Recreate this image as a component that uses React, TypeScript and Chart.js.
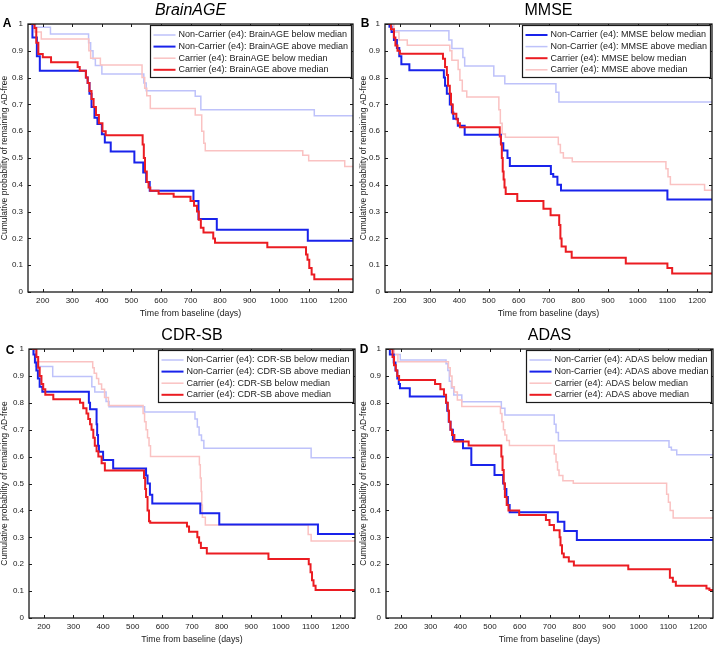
import React, { useEffect, useRef } from 'react';
import { Chart, registerables } from 'chart.js';

Chart.register(...registerables);

// ---------- axes ----------
const xMin = 150;
const xMax = 1250;
const xTickValues = [200, 300, 400, 500, 600, 700, 800, 900, 1000, 1100, 1200];
const yTickValues = [0, 0.1, 0.2, 0.3, 0.4, 0.5, 0.6, 0.7, 0.8, 0.9, 1];
const xAxisTitle = 'Time from baseline (days)';
const yAxisTitle = 'Cumulative probability of remaining AD-free';

const panelTitles = ['BrainAGE', 'MMSE', 'CDR-SB', 'ADAS'];
const panelLetters = ['A', 'B', 'C', 'D'];

// ---------- data: [day, survival] (Kaplan-Meier steps) ----------
// A: BrainAGE
const brainNcBelow = [[150, 1], [175, 0.988], [226, 0.963], [355, 0.93], [362, 0.9], [370, 0.87], [378, 0.845], [400, 0.813], [542, 0.78], [550, 0.751], [716, 0.73], [735, 0.68], [1119, 0.658], [1250, 0.658]];
const brainNcAbove = [[150, 1], [160, 1], [165, 0.95], [180, 0.88], [190, 0.826], [346, 0.8], [352, 0.78], [358, 0.74], [365, 0.69], [375, 0.65], [385, 0.627], [400, 0.589], [410, 0.558], [430, 0.524], [510, 0.483], [540, 0.446], [550, 0.41], [562, 0.378], [710, 0.34], [727, 0.272], [789, 0.232], [1097, 0.191], [1250, 0.191]];
const brainCBelow = [[150, 1], [172, 0.97], [195, 0.944], [356, 0.9], [362, 0.872], [395, 0.847], [536, 0.8], [545, 0.76], [552, 0.732], [564, 0.685], [716, 0.66], [738, 0.6], [745, 0.555], [750, 0.527], [1080, 0.51], [1100, 0.49], [1222, 0.468], [1250, 0.468]];
const brainCAbove = [[150, 1], [172, 0.985], [178, 0.93], [185, 0.888], [200, 0.876], [228, 0.857], [318, 0.84], [325, 0.826], [346, 0.8], [352, 0.78], [358, 0.75], [365, 0.72], [372, 0.69], [380, 0.66], [390, 0.63], [402, 0.6], [413, 0.585], [538, 0.55], [542, 0.5], [546, 0.45], [552, 0.41], [558, 0.39], [564, 0.378], [592, 0.367], [643, 0.355], [700, 0.34], [712, 0.322], [722, 0.3], [728, 0.27], [735, 0.24], [744, 0.222], [777, 0.2], [783, 0.184], [960, 0.167], [1091, 0.14], [1096, 0.12], [1102, 0.09], [1110, 0.065], [1119, 0.048], [1250, 0.048]];

// B: MMSE
const mmseNcBelow = [[150, 1], [165, 0.99], [172, 0.97], [180, 0.94], [190, 0.91], [198, 0.88], [205, 0.85], [232, 0.827], [348, 0.8], [352, 0.77], [358, 0.74], [368, 0.7], [375, 0.67], [380, 0.646], [395, 0.62], [418, 0.587], [540, 0.555], [548, 0.528], [562, 0.5], [570, 0.47], [708, 0.44], [716, 0.43], [730, 0.4], [742, 0.379], [1100, 0.345], [1250, 0.345]];
const mmseNcAbove = [[150, 1], [178, 0.975], [365, 0.94], [375, 0.909], [412, 0.875], [418, 0.843], [516, 0.806], [553, 0.777], [725, 0.745], [735, 0.709], [1250, 0.709]];
const mmseCBelow = [[150, 1], [170, 0.98], [180, 0.95], [185, 0.92], [192, 0.9], [200, 0.889], [345, 0.87], [352, 0.84], [358, 0.81], [362, 0.77], [368, 0.74], [372, 0.7], [378, 0.665], [390, 0.645], [395, 0.63], [402, 0.615], [536, 0.58], [540, 0.55], [543, 0.5], [546, 0.45], [549, 0.42], [552, 0.39], [556, 0.366], [595, 0.34], [683, 0.311], [707, 0.286], [736, 0.25], [740, 0.2], [744, 0.17], [758, 0.15], [778, 0.128], [960, 0.106], [1100, 0.09], [1116, 0.069], [1250, 0.069]];
const mmseCAbove = [[150, 1], [180, 0.97], [197, 0.94], [225, 0.921], [368, 0.9], [375, 0.865], [396, 0.83], [402, 0.79], [410, 0.75], [425, 0.728], [533, 0.68], [538, 0.63], [544, 0.59], [555, 0.577], [733, 0.55], [740, 0.52], [750, 0.5], [780, 0.486], [1095, 0.46], [1102, 0.43], [1110, 0.401], [1225, 0.38], [1250, 0.38]];

// C: CDR-SB
const cdrNcBelow = [[150, 1], [168, 0.99], [172, 0.935], [230, 0.898], [362, 0.86], [372, 0.84], [410, 0.805], [420, 0.785], [540, 0.766], [710, 0.74], [718, 0.71], [724, 0.68], [732, 0.66], [740, 0.631], [1102, 0.596], [1250, 0.596]];
const cdrNcAbove = [[150, 1], [165, 0.98], [170, 0.95], [175, 0.92], [180, 0.89], [186, 0.86], [195, 0.841], [352, 0.8], [356, 0.776], [378, 0.72], [380, 0.68], [383, 0.64], [386, 0.618], [400, 0.587], [434, 0.556], [545, 0.53], [550, 0.5], [558, 0.458], [566, 0.426], [728, 0.389], [792, 0.348], [1125, 0.312], [1250, 0.312]];
const cdrCBelow = [[150, 1], [175, 0.953], [365, 0.93], [370, 0.91], [378, 0.89], [385, 0.87], [395, 0.85], [405, 0.82], [418, 0.79], [535, 0.76], [540, 0.73], [545, 0.7], [550, 0.67], [555, 0.64], [560, 0.6], [725, 0.57], [728, 0.52], [731, 0.47], [733, 0.42], [735, 0.375], [745, 0.346], [1092, 0.31], [1102, 0.286], [1250, 0.286]];
const cdrCAbove = [[150, 1], [175, 0.97], [181, 0.93], [186, 0.9], [192, 0.87], [198, 0.85], [205, 0.83], [232, 0.813], [322, 0.8], [333, 0.78], [344, 0.76], [350, 0.74], [356, 0.72], [361, 0.7], [367, 0.67], [372, 0.64], [378, 0.62], [384, 0.6], [395, 0.575], [406, 0.548], [538, 0.52], [542, 0.48], [545, 0.45], [550, 0.4], [555, 0.36], [559, 0.354], [683, 0.34], [690, 0.321], [718, 0.3], [724, 0.28], [730, 0.26], [750, 0.24], [958, 0.219], [1094, 0.2], [1100, 0.17], [1105, 0.14], [1110, 0.12], [1117, 0.104], [1250, 0.104]];

// D: ADAS
const adasNcBelow = [[150, 1], [176, 0.98], [198, 0.959], [352, 0.945], [358, 0.92], [363, 0.88], [370, 0.855], [378, 0.829], [405, 0.804], [538, 0.78], [550, 0.755], [716, 0.72], [722, 0.69], [730, 0.659], [1102, 0.635], [1110, 0.625], [1128, 0.607], [1250, 0.607]];
const adasNcAbove = [[150, 1], [163, 0.98], [176, 0.95], [182, 0.92], [188, 0.89], [193, 0.87], [197, 0.854], [230, 0.823], [352, 0.8], [356, 0.77], [361, 0.73], [367, 0.7], [375, 0.662], [409, 0.631], [437, 0.569], [515, 0.532], [544, 0.5], [549, 0.48], [555, 0.45], [560, 0.42], [566, 0.393], [728, 0.358], [750, 0.323], [792, 0.29], [1250, 0.29]];
const adasCBelow = [[150, 1], [178, 0.98], [190, 0.953], [360, 0.93], [366, 0.9], [372, 0.86], [380, 0.84], [390, 0.81], [405, 0.786], [535, 0.76], [540, 0.73], [545, 0.7], [550, 0.68], [556, 0.66], [565, 0.641], [716, 0.61], [722, 0.58], [727, 0.55], [732, 0.53], [745, 0.51], [780, 0.501], [1094, 0.46], [1100, 0.43], [1106, 0.4], [1116, 0.372], [1250, 0.372]];
const adasCAbove = [[150, 1], [172, 0.97], [177, 0.94], [183, 0.92], [188, 0.9], [194, 0.885], [315, 0.87], [333, 0.85], [345, 0.83], [352, 0.8], [358, 0.77], [362, 0.73], [367, 0.7], [372, 0.68], [380, 0.656], [428, 0.641], [538, 0.6], [542, 0.55], [546, 0.5], [550, 0.45], [556, 0.42], [562, 0.4], [598, 0.383], [688, 0.364], [700, 0.346], [715, 0.326], [734, 0.3], [737, 0.27], [742, 0.24], [748, 0.226], [765, 0.21], [782, 0.195], [965, 0.181], [1105, 0.15], [1115, 0.135], [1125, 0.12], [1228, 0.11], [1238, 0.104], [1250, 0.104]];

// ---------- styles ----------
const FONT = '"Liberation Sans", Arial, Helvetica, sans-serif';
const STRONG_BLUE = 'rgb(25,35,235)';
const STRONG_RED = 'rgb(235,28,34)';
const PALE_BLUE = 'rgb(190,194,250)';
const PALE_RED = 'rgb(250,194,194)';
const INK = '#1a1a1a';

type Series = { label: string; data: number[][]; color: string; strong: boolean };

function makeSeries(metric: string, strongBelow: boolean, d: number[][][]): Series[] {
  // d: [ncBelow, ncAbove, cBelow, cAbove]
  return [
    { label: `Non-Carrier (e4): ${metric} below median`, data: d[0], color: strongBelow ? STRONG_BLUE : PALE_BLUE, strong: strongBelow },
    { label: `Non-Carrier (e4): ${metric} above median`, data: d[1], color: strongBelow ? PALE_BLUE : STRONG_BLUE, strong: !strongBelow },
    { label: `Carrier (e4): ${metric} below median`, data: d[2], color: strongBelow ? STRONG_RED : PALE_RED, strong: strongBelow },
    { label: `Carrier (e4): ${metric} above median`, data: d[3], color: strongBelow ? PALE_RED : STRONG_RED, strong: !strongBelow },
  ];
}

const panelSeries: Series[][] = [
  makeSeries(panelTitles[0], false, [brainNcBelow, brainNcAbove, brainCBelow, brainCAbove]),
  makeSeries(panelTitles[1], true, [mmseNcBelow, mmseNcAbove, mmseCBelow, mmseCAbove]),
  makeSeries(panelTitles[2], false, [cdrNcBelow, cdrNcAbove, cdrCBelow, cdrCAbove]),
  makeSeries(panelTitles[3], false, [adasNcBelow, adasNcAbove, adasCBelow, adasCAbove]),
];

const panelLayout = [
  { left: 0, top: 0, width: 359, height: 324, area: [28, 24, 353, 292], xTitlePad: 5.4, letterX: 7, letterY: 24, italic: true },
  { left: 359, top: 0, width: 359, height: 324, area: [26, 24, 353, 292], xTitlePad: 5.4, letterX: 6, letterY: 24, italic: false },
  { left: 0, top: 324, width: 359, height: 325, area: [29, 25, 355, 294], xTitlePad: 4.2, letterX: 10, letterY: 27, italic: false },
  { left: 359, top: 324, width: 359, height: 325, area: [27, 25, 354, 294], xTitlePad: 4.2, letterX: 5, letterY: 26, italic: false },
];

const decorPlugin = {
  id: 'decor',
  afterDatasetsDraw(chart: any, _args: any, opts: any) {
    const { ctx, chartArea: a, scales } = chart;
    const xs = scales.x;
    const ys = scales.y;
    ctx.save();
    // inward tick marks
    ctx.strokeStyle = INK;
    ctx.lineWidth = 1;
    ctx.beginPath();
    for (const v of xTickValues) {
      const px = Math.round(xs.getPixelForValue(v)) + 0.5;
      ctx.moveTo(px, a.bottom);
      ctx.lineTo(px, a.bottom - 3);
      ctx.moveTo(px, a.top);
      ctx.lineTo(px, a.top + 3);
    }
    for (const v of yTickValues) {
      const py = Math.round(ys.getPixelForValue(v)) + 0.5;
      ctx.moveTo(a.left, py);
      ctx.lineTo(a.left + 3, py);
      ctx.moveTo(a.right, py);
      ctx.lineTo(a.right - 3, py);
    }
    ctx.stroke();
    // axes box
    ctx.lineWidth = 1.3;
    ctx.strokeRect(a.left, a.top, a.right - a.left, a.bottom - a.top);

    // legend
    const entries: Series[] = opts.entries;
    ctx.font = `9px ${FONT}`;
    let tw = 0;
    for (const e of entries) tw = Math.max(tw, ctx.measureText(e.label).width);
    const bw = Math.round(tw + 31);
    const bx = Math.round(a.right - 2 - bw) + 0.5;
    const by = Math.round(a.top + 1) + 0.5;
    const bh = 52;
    ctx.fillStyle = '#ffffff';
    ctx.fillRect(bx, by, bw, bh);
    ctx.strokeStyle = INK;
    ctx.lineWidth = 1.2;
    ctx.strokeRect(bx, by, bw, bh);
    ctx.textBaseline = 'middle';
    ctx.textAlign = 'left';
    entries.forEach((e, i) => {
      const y = by + 9.5 + i * 11.6;
      ctx.strokeStyle = e.color;
      ctx.lineWidth = e.strong ? 2 : 1.5;
      ctx.beginPath();
      ctx.moveTo(bx + 3, y);
      ctx.lineTo(bx + 25, y);
      ctx.stroke();
      ctx.fillStyle = INK;
      ctx.fillText(e.label, bx + 28, y);
    });

    // panel title
    ctx.fillStyle = '#000';
    ctx.textAlign = 'center';
    ctx.textBaseline = 'middle';
    ctx.font = `${opts.italic ? 'italic ' : ''}16px ${FONT}`;
    ctx.fillText(opts.title, (a.left + a.right) / 2, a.top - 13.5);
    // panel letter
    ctx.font = `bold 12px ${FONT}`;
    ctx.fillText(opts.letter, opts.letterX, opts.letterY);
    ctx.restore();
  },
};

function Panel({ index }: { index: number }) {
  const ref = useRef<HTMLCanvasElement | null>(null);
  const lay = panelLayout[index];
  useEffect(() => {
    if (!ref.current) return;
    const series = panelSeries[index];
    const [aL, aT, aR, aB] = lay.area;
    const order = (s: Series) => (s.strong ? (s.color === STRONG_RED ? 0 : 1) : (s.color === PALE_RED ? 2 : 3));
    const chart = new Chart(ref.current, {
      type: 'line',
      data: {
        datasets: series.map((s) => ({
          label: s.label,
          data: s.data.map(([x, y]) => ({ x, y })),
          borderColor: s.color,
          backgroundColor: s.color,
          borderWidth: s.strong ? 2 : 1.5,
          pointRadius: 0,
          pointHoverRadius: 0,
          stepped: 'before' as const,
          fill: false,
          order: order(s),
        })),
      },
      options: {
        responsive: false,
        animation: false,
        devicePixelRatio: 1,
        events: [],
        layout: { padding: { left: 0, top: aT, right: lay.width - aR, bottom: 0 } },
        plugins: {
          legend: { display: false },
          title: { display: false },
          tooltip: { enabled: false },
          decor: {
            entries: series,
            title: panelTitles[index],
            italic: lay.italic,
            letter: panelLetters[index],
            letterX: lay.letterX,
            letterY: lay.letterY,
          },
        } as any,
        scales: {
          x: {
            type: 'linear',
            min: xMin,
            max: xMax,
            grid: { display: false, drawTicks: false },
            border: { display: false },
            ticks: {
              padding: 4,
              color: INK,
              font: { family: FONT, size: 8 },
              maxRotation: 0,
              autoSkip: false,
              callback: (v: any) => String(v),
            },
            afterBuildTicks: (s: any) => {
              s.ticks = xTickValues.map((v) => ({ value: v }));
            },
            afterFit: (s: any) => {
              s.height = lay.height - aB;
            },
            title: {
              display: true,
              text: xAxisTitle,
              color: INK,
              font: { family: FONT, size: 8.8 },
              padding: { top: 0, bottom: lay.xTitlePad },
            },
          },
          y: {
            type: 'linear',
            min: 0,
            max: 1,
            grid: { display: false, drawTicks: false },
            border: { display: false },
            ticks: {
              padding: 5,
              color: INK,
              font: { family: FONT, size: 8 },
              autoSkip: false,
              callback: (v: any) => String(Math.round(Number(v) * 10) / 10),
            },
            afterBuildTicks: (s: any) => {
              s.ticks = yTickValues.map((v) => ({ value: v }));
            },
            afterFit: (s: any) => {
              s.width = aL;
            },
            title: {
              display: true,
              text: yAxisTitle,
              color: INK,
              font: { family: FONT, size: 8.5 },
              padding: { top: 0, bottom: 0 },
            },
          },
        },
      } as any,
      plugins: [decorPlugin],
    });
    return () => chart.destroy();
  }, [index]);
  return (
    <canvas
      ref={ref}
      width={lay.width}
      height={lay.height}
      style={{ position: 'absolute', left: lay.left, top: lay.top, width: lay.width, height: lay.height }}
    />
  );
}

export default function App() {
  return (
    <div style={{ position: 'absolute', left: 0, top: 0, width: 718, height: 649, background: '#fff', overflow: 'hidden' }}>
      {[0, 1, 2, 3].map((i) => (
        <Panel key={i} index={i} />
      ))}
    </div>
  );
}
